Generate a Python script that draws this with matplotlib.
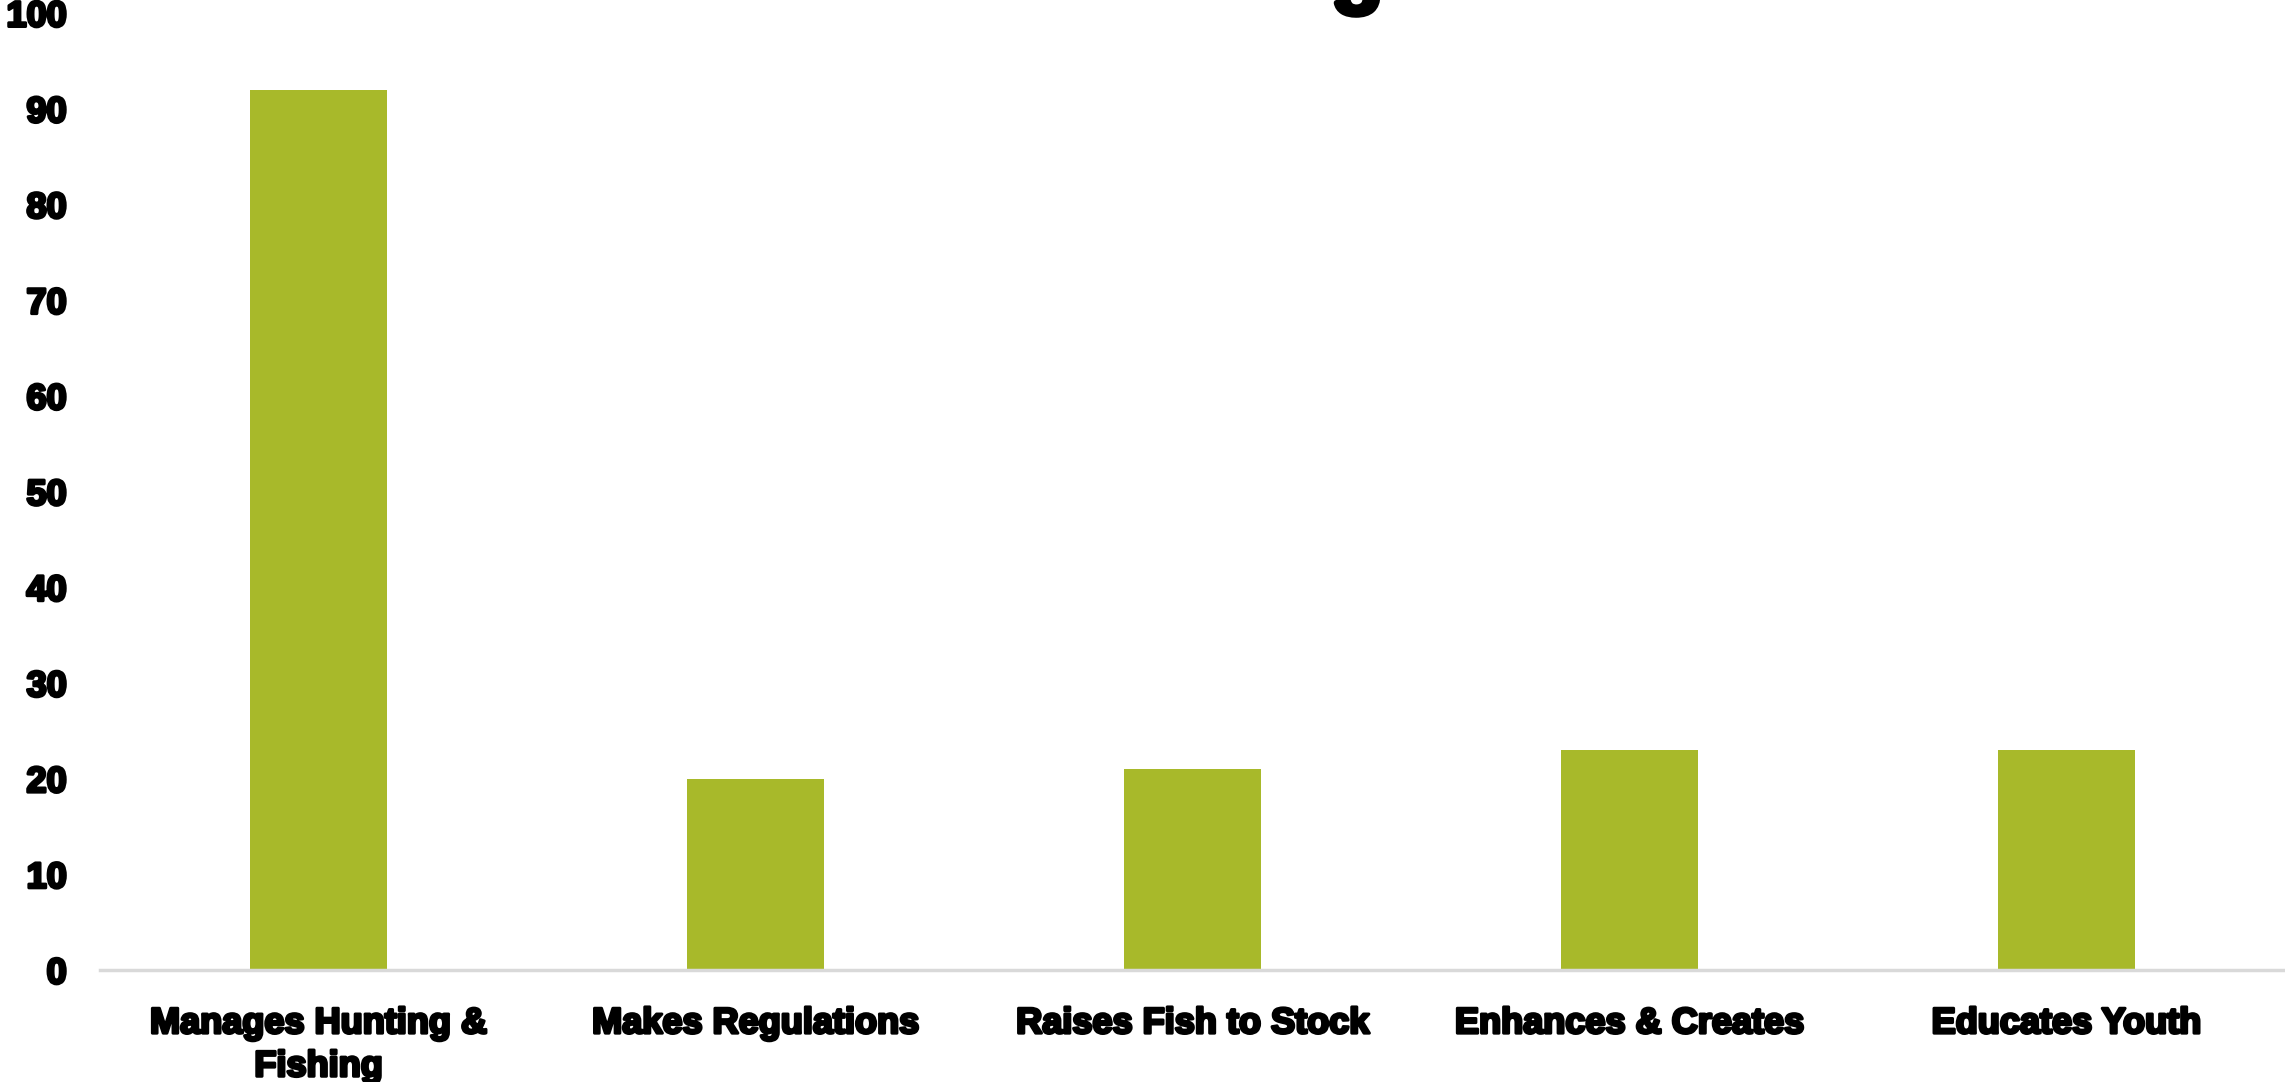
import matplotlib
matplotlib.use('Agg')
import matplotlib.pyplot as plt
import matplotlib.patheffects as pe

categories = ['Manages Hunting &\nFishing', 'Makes Regulations', 'Raises Fish to Stock',
              'Enhances & Creates', 'Educates Youth']
values = [92, 20, 21, 23, 23]
yticks = [0, 10, 20, 30, 40, 50, 60, 70, 80, 90, 100]

bar_color = '#A8B92A'
heavy = [pe.withStroke(linewidth=2.2, foreground='black')]

fig = plt.figure(figsize=(22.85, 10.82), dpi=100)
ax = fig.add_axes([0.0438, 0.1035, 0.9562, 0.8845])

x = list(range(len(categories)))
ax.bar(x, values, width=0.313, color=bar_color, zorder=2)

ax.set_xlim(-0.5, len(categories) - 0.5)
ax.set_ylim(0, 100)
ax.set_yticks(yticks)
ax.set_xticks(x)
ax.set_xticklabels(categories, linespacing=1.3)

for side in ['top', 'right', 'left']:
    ax.spines[side].set_visible(False)
ax.spines['bottom'].set_color('#D9D9D9')
ax.spines['bottom'].set_linewidth(2.5)

ax.tick_params(axis='both', length=0, labelsize=26)
ax.tick_params(axis='y', pad=24)
ax.tick_params(axis='x', pad=26)
for lab in ax.get_xticklabels() + ax.get_yticklabels():
    lab.set_fontfamily('Liberation Sans')
    lab.set_fontweight('bold')
    lab.set_path_effects(heavy)

# title sits mostly above the canvas, only the descender shows
fig.text(0.594, 1.003, 'g', fontsize=62, fontweight='bold', family='Liberation Sans',
         ha='center', va='baseline', path_effects=[pe.withStroke(linewidth=4, foreground='black')])

fig.savefig('out.png', dpi=100, facecolor='white')
